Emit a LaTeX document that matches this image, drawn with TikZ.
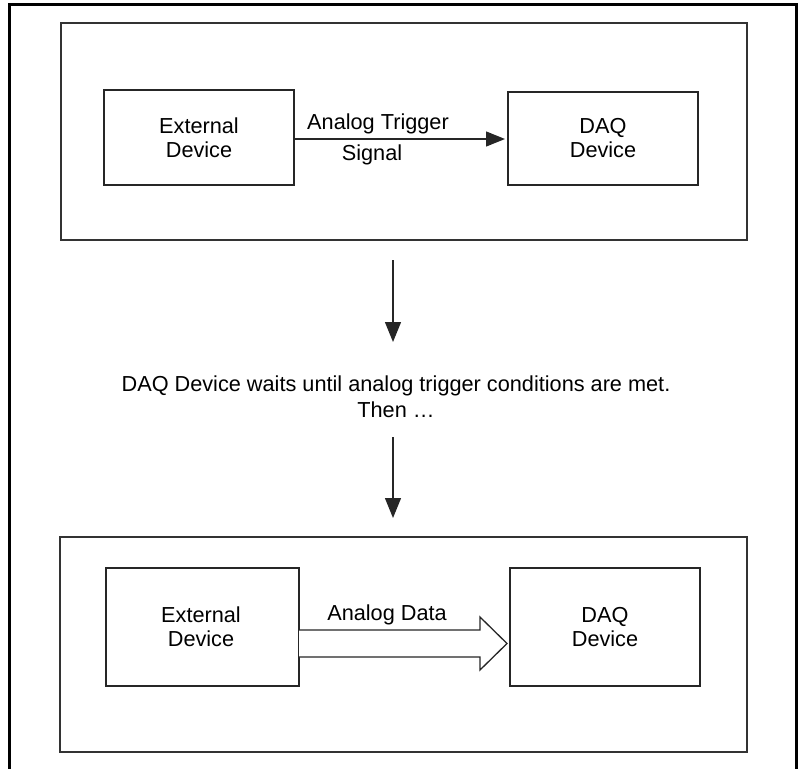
\documentclass[tikz,border=0pt]{standalone}
\usepackage{fontspec}
\setmainfont{Liberation Sans}
\usetikzlibrary{arrows.meta,shapes.arrows}
\begin{document}
\begin{tikzpicture}[x=1pt,y=-1pt,
  lbl/.style={font=\fontsize{21.7}{24}\selectfont, align=center, inner sep=0pt},
  panel/.style={draw=black!80, line width=1.5pt},
  devbox/.style={draw=black!85, line width=1.5pt},
  arr/.style={draw=black!85, line width=1.3pt, -{Triangle[length=20pt,width=16pt]}}]
\useasboundingbox (0,0) rectangle (800,768);
\draw[line width=3pt] (9,770) -- (9,5) -- (796,5) -- (796,770);
% top panel
\draw[panel] (61,23) rectangle (747,240);
\draw[devbox] (104,90) rectangle (294,185);
\draw[devbox] (508,92) rectangle (698,185);
\node[lbl] (ext1) at (199,138) {External\\Device};
\node[lbl] (daq1) at (603,138) {DAQ\\Device};
\coordinate (e1) at (294,139);
\coordinate (d1) at (505,139);
\draw[draw=black!85, line width=1.3pt, -{Triangle[length=19pt,width=15pt]}] (e1) -- (d1);
\node[lbl] (trig) at (378,124) {Analog Trigger};
\node[lbl] (sig) at (372,155) {Signal};
% middle
\coordinate (a1s) at (393,260);
\coordinate (a1e) at (393,342);
\draw[arr] (a1s) -- (a1e);
\node[lbl] (wait) at (396,397) {DAQ Device waits until analog trigger conditions are met.\\[2pt]Then \dots};
\coordinate (a2s) at (393,437);
\coordinate (a2e) at (393,518);
\draw[arr] (a2s) -- (a2e);
% bottom panel
\draw[panel] (60,537) rectangle (747,752);
\draw[devbox] (106,568) rectangle (299,686);
\draw[devbox] (510,568) rectangle (700,686);
\node[lbl] (ext2) at (201,627) {External\\Device};
\node[lbl] (daq2) at (605,627) {DAQ\\Device};
\draw[draw=black!85, line width=1.3pt, fill=white]
  (299,630) -- (480,630) -- (480,617) -- (507,643.5) -- (480,670) -- (480,657) -- (299,657);
\node[lbl] (data) at (387,615) {Analog Data};
\end{tikzpicture}
\end{document}
